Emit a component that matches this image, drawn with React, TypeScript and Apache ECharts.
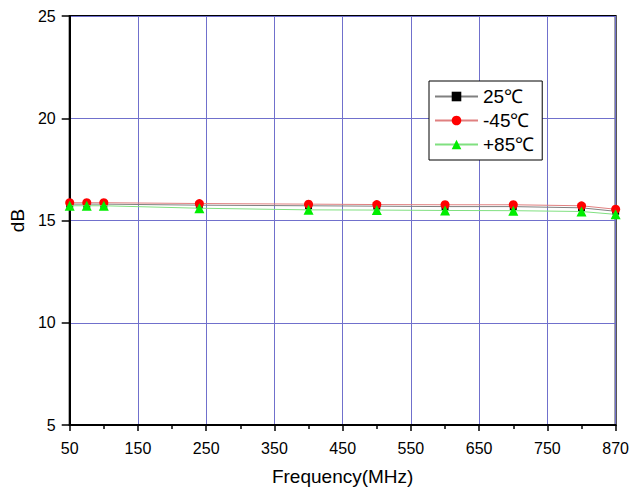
import React, { useEffect, useRef } from "react";
import * as echarts from "echarts";

const xTickLabels = ["50", "150", "250", "350", "450", "550", "650", "750", "870"];
const xTickValues = [50, 150, 250, 350, 450, 550, 650, 750, 870];
const frequencies = [50, 75, 100, 240, 400, 500, 600, 700, 810, 870];
const s25 = [15.8, 15.8, 15.8, 15.75, 15.72, 15.7, 15.68, 15.68, 15.62, 15.45];
const sM45 = [15.87, 15.87, 15.87, 15.83, 15.8, 15.78, 15.77, 15.77, 15.72, 15.55];
const sP85 = [15.72, 15.72, 15.72, 15.6, 15.52, 15.51, 15.49, 15.48, 15.44, 15.3];
const seriesNames = ["25℃", "-45℃", "+85℃"];

// axis is piecewise-linear between its labelled ticks (equally spaced)
function freqToAxis(f: number): number {
  for (let i = 0; i < xTickValues.length - 1; i++) {
    const a = xTickValues[i];
    const b = xTickValues[i + 1];
    if (f >= a && f <= b) return i + (f - a) / (b - a);
  }
  return xTickValues.length - 1;
}

const FONT = "'Liberation Sans', Arial, sans-serif";

export default function App() {
  const ref = useRef<HTMLDivElement>(null);
  useEffect(() => {
    if (!ref.current) return;
    const chart = echarts.init(ref.current, null, { renderer: "svg" });
    const mk = (vals: number[]) => vals.map((v, i) => [freqToAxis(frequencies[i]), v]);
    chart.setOption({
      animation: false,
      backgroundColor: "#fff",
      textStyle: { fontFamily: FONT },
      grid: {
        left: 67,
        right: 13,
        top: 16,
        bottom: 65,
        show: true,
        borderColor: "#000",
        borderWidth: 2,
        backgroundColor: "transparent",
      },
      legend: {
        orient: "vertical",
        left: 429,
        top: 81,
        backgroundColor: "#fff",
        borderColor: "#000",
        borderWidth: 1,
        borderRadius: 0,
        padding: [6, 8, 6, 5],
        itemWidth: 43,
        itemHeight: 12,
        itemGap: 5,
        textStyle: { fontSize: 19, color: "#000", fontFamily: FONT },
        data: seriesNames,
      },
      xAxis: {
        type: "value",
        min: 0,
        max: 8,
        interval: 1,
        name: "Frequency(MHz)",
        nameLocation: "middle",
        nameGap: 42,
        nameTextStyle: { fontSize: 19, color: "#000", fontFamily: FONT },
        axisLine: { show: true, lineStyle: { color: "#000", width: 2 } },
        axisTick: { show: true, length: 6, lineStyle: { color: "#000", width: 1.5 } },
        minorTick: { show: true, splitNumber: 2, length: 4, lineStyle: { color: "#000", width: 1.5 } },
        axisLabel: {
          fontSize: 16,
          color: "#000",
          margin: 15,
          fontFamily: FONT,
          showMaxLabel: true,
          showMinLabel: true,
          formatter: (v: number) => xTickLabels[Math.round(v)] ?? "",
        },
        splitLine: { show: true, lineStyle: { color: "#7070cc", width: 1 } },
      },
      yAxis: {
        type: "value",
        min: 5,
        max: 25,
        interval: 5,
        name: "dB",
        nameLocation: "middle",
        nameGap: 38,
        nameTextStyle: { fontSize: 19, color: "#000", fontFamily: FONT },
        axisLine: { show: true, lineStyle: { color: "#000", width: 2 } },
        axisTick: { show: true, length: 8, lineStyle: { color: "#000", width: 1.5 } },
        axisLabel: { fontSize: 16, color: "#000", margin: 14, fontFamily: FONT },
        splitLine: { show: true, lineStyle: { color: "#7070cc", width: 1 } },
      },
      series: [
        {
          name: seriesNames[0],
          type: "line",
          data: mk(s25),
          symbol: "rect",
          symbolSize: 7,
          itemStyle: { color: "#000" },
          lineStyle: { color: "#808080", width: 1 },
          z: 3,
        },
        {
          name: seriesNames[1],
          type: "line",
          data: mk(sM45),
          symbol: "circle",
          symbolSize: 9,
          itemStyle: { color: "#ff0000" },
          lineStyle: { color: "#e08080", width: 1 },
          z: 4,
        },
        {
          name: seriesNames[2],
          type: "line",
          data: mk(sP85),
          symbol: "triangle",
          symbolSize: 10,
          itemStyle: { color: "#00ee00" },
          lineStyle: { color: "#80e080", width: 1 },
          z: 5,
        },
      ],
    });
    return () => chart.dispose();
  }, []);
  return (
    <div
      ref={ref}
      style={{ position: "fixed", left: 0, top: 0, width: 632, height: 491, background: "#fff" }}
    />
  );
}
